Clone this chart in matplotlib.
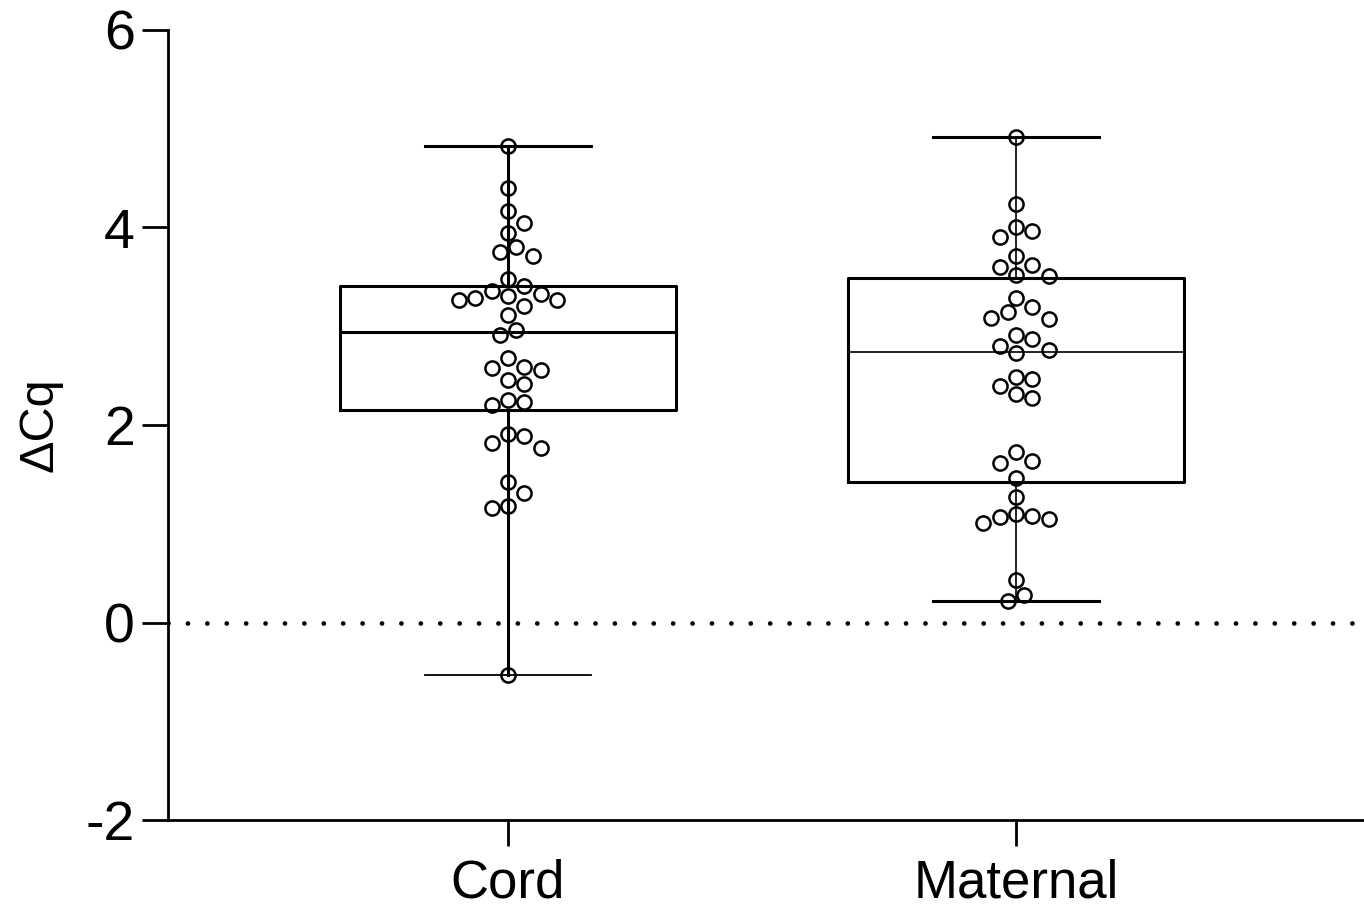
import numpy as np
import matplotlib
matplotlib.use("Agg")
import matplotlib.pyplot as plt

plt.rcParams['font.family'] = ['Liberation Sans', 'DejaVu Sans']
plt.rcParams['axes.unicode_minus'] = False

# ---- data ----
categories = ["Cord", "Maternal"]
cord_values = [4.83, 4.40, 4.17, 4.05, 3.94, 3.80, 3.75, 3.71, 3.48, 3.41,
               3.36, 3.33, 3.31, 3.29, 3.27, 3.27, 3.21, 3.11, 2.96, 2.91,
               2.68, 2.59, 2.58, 2.56, 2.46, 2.42, 2.25, 2.23, 2.20, 1.91,
               1.89, 1.82, 1.77, 1.42, 1.31, 1.18, 1.16, -0.53]
maternal_values = [4.92, 4.24, 4.01, 3.96, 3.90, 3.71, 3.62, 3.60, 3.52, 3.51,
                   3.29, 3.19, 3.14, 3.08, 3.07, 2.91, 2.87, 2.80, 2.76, 2.73,
                   2.49, 2.47, 2.40, 2.31, 2.27, 1.73, 1.64, 1.62, 1.46, 1.27,
                   1.10, 1.08, 1.07, 1.05, 1.01, 0.43, 0.28, 0.22]
box_q1 = [2.15, 1.42]
box_median = [2.94, 2.74]
box_q3 = [3.41, 3.49]
box_min = [-0.53, 0.22]
box_max = [4.83, 4.92]
y_ticks = [-2, 0, 2, 4, 6]
y_label = "\u0394Cq"

W, H = 1364, 905
fig = plt.figure(figsize=(W / 100, H / 100), dpi=100)
ax = fig.add_axes([168 / W, 1 - 820 / H, 1 - 168 / W, (820 - 30) / H])
ax.set_xlim(-0.6693, 1.685)
ax.set_ylim(-2, 6)

positions = [0, 1]
stats = []
for i, name in enumerate(categories):
    stats.append(dict(label=name, q1=box_q1[i], med=box_median[i], q3=box_q3[i],
                      whislo=box_min[i], whishi=box_max[i], fliers=[]))

bp = ax.bxp(stats, positions=positions, widths=0.663, capwidths=0.325,
            showfliers=False, patch_artist=False,
            boxprops=dict(color='black', linewidth=2.2),
            whiskerprops=dict(color='black', linewidth=2.2),
            capprops=dict(color='black', linewidth=2.2),
            medianprops=dict(color='black', linewidth=2.2),
            manage_ticks=False)
# thinner elements as in reference
bp['medians'][1].set_linewidth(1.2)
bp['whiskers'][2].set_linewidth(1.2)
bp['whiskers'][3].set_linewidth(1.2)
bp['caps'][0].set_linewidth(1.3)

# dotted zero line
ax.axhline(0, color='black', linewidth=3.4, linestyle=(0, (0.01, 4.1)),
           dash_capstyle='round', zorder=1)


def swarm_x(xc, vals, diam=16.0, step=8.2):
    vals = np.asarray(vals, dtype=float)
    pts = ax.transData.transform(np.column_stack([np.full(len(vals), xc), vals]))
    order = np.argsort(-vals, kind='stable')
    placed = []
    xs = np.zeros(len(vals))
    cands = [0.0]
    for k in range(1, 12):
        cands += [k * step, -k * step]
    for i in order:
        y = pts[i, 1]
        for off in cands:
            x = pts[i, 0] + off
            if all(np.hypot(x - px, y - py) >= diam for px, py in placed):
                placed.append((x, y))
                xs[i] = x
                break
    back = ax.transData.inverted().transform(np.column_stack([xs, pts[:, 1]]))
    return back[:, 0]


for pos, vals in zip(positions, [cord_values, maternal_values]):
    xs = swarm_x(pos, vals)
    ax.plot(xs, vals, linestyle='none', marker='o', markersize=10.2,
            markerfacecolor='none', markeredgecolor='black',
            markeredgewidth=1.8, zorder=3)

for s in ['top', 'right']:
    ax.spines[s].set_visible(False)
for s in ['left', 'bottom']:
    ax.spines[s].set_linewidth(2.0)

ax.set_yticks(y_ticks)
ax.set_yticklabels([str(t) for t in y_ticks])
ax.set_xticks(positions)
ax.set_xticklabels(categories)
ax.tick_params(axis='y', length=18.7, width=2.0, labelsize=40, pad=5)
ax.tick_params(axis='x', length=19, width=2.0, labelsize=38, pad=9)
ax.set_ylabel(y_label, fontsize=35)
ax.yaxis.set_label_coords(-0.088, 0.5)

fig.savefig("out.png", dpi=100)
